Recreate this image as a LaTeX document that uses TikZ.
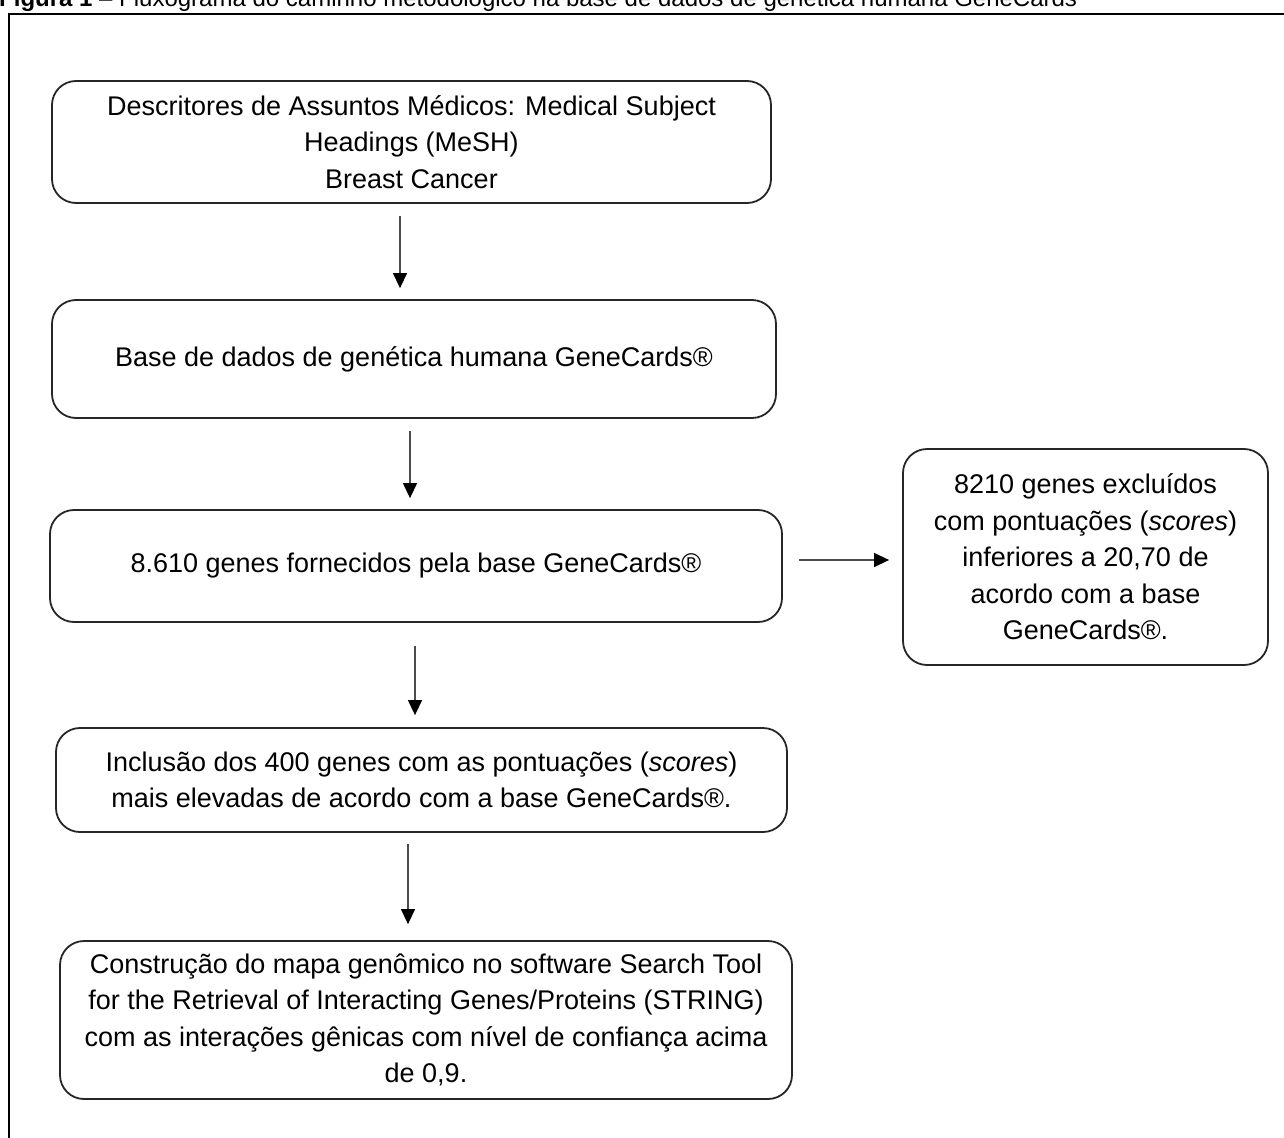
\documentclass[tikz,border=0pt]{standalone}
\usepackage{fontspec}
\setmainfont{Liberation Sans}
\usetikzlibrary{arrows.meta}
\begin{document}
\begin{tikzpicture}[x=1pt,y=-1pt,
  box/.style={draw=black!85, line width=1.8pt, rounded corners=24pt, align=center,
    inner sep=0pt, font=\fontsize{27}{36.5}\selectfont},
  arr/.style={draw=black!70, line width=1.3pt, -{Triangle[length=15pt,width=14pt,color=black]}},
  ttl/.style={anchor=base west, inner sep=0pt, font=\fontsize{24}{28}\selectfont}
]
\useasboundingbox (0,0) rectangle (1284,1137);
% frame
\draw[line width=1.2pt] (9,1145) -- (9,14);
\draw[line width=2.8pt] (8,14) -- (1295,14);
% title (cut off at top as in reference)
\node[ttl] (title) at (-1,7) {\textbf{Figura 1} – Fluxograma do caminho metodológico na base de dados de genética humana GeneCards};
% boxes
\node[box, minimum width=719pt, minimum height=122pt] (b1) at (411.5,142)
  {Descritores de Assuntos Médicos: Medical Subject\\Headings (MeSH)\\Breast Cancer};
\node[box, minimum width=724pt, minimum height=118pt] (b2) at (414,359)
  {Base de dados de genética humana GeneCards®};
\node[box, minimum width=732pt, minimum height=112pt] (b3) at (416,566)
  {8.610 genes fornecidos pela base GeneCards®};
\node[box, minimum width=365pt, minimum height=216pt] (b4) at (1085.5,557)
  {8210 genes excluídos\\com pontuações (\textit{scores})\\inferiores a 20,70 de\\acordo com a base\\GeneCards®.};
\node[box, minimum width=731pt, minimum height=104pt] (b5) at (421.5,780)
  {Inclusão dos 400 genes com as pontuações (\textit{scores})\\mais elevadas de acordo com a base GeneCards®.};
\node[box, minimum width=732pt, minimum height=158pt] (b6) at (426,1020)
  {Construção do mapa genômico no software Search Tool\\for the Retrieval of Interacting Genes/Proteins (STRING)\\com as interações gênicas com nível de confiança acima\\de 0,9.};
% connectors
\draw[arr, shorten <=12pt, shorten >=11pt] ([xshift=-11.5pt]b1.south) -- ([xshift=-14pt]b2.north);
\draw[arr, shorten <=12pt, shorten >=11pt] ([xshift=-4pt]b2.south) -- ([xshift=-6pt]b3.north);
\draw[arr, shorten <=23pt, shorten >=12pt] ([xshift=-1pt]b3.south) -- ([xshift=-6.5pt]b5.north);
\draw[arr, shorten <=11pt, shorten >=16pt] ([xshift=-13.5pt]b5.south) -- ([xshift=-18pt]b6.north);
\draw[arr, shorten <=16pt, shorten >=13pt] ([yshift=6pt]b3.east) -- ([yshift=-3pt]b4.west);
\end{tikzpicture}
\end{document}
